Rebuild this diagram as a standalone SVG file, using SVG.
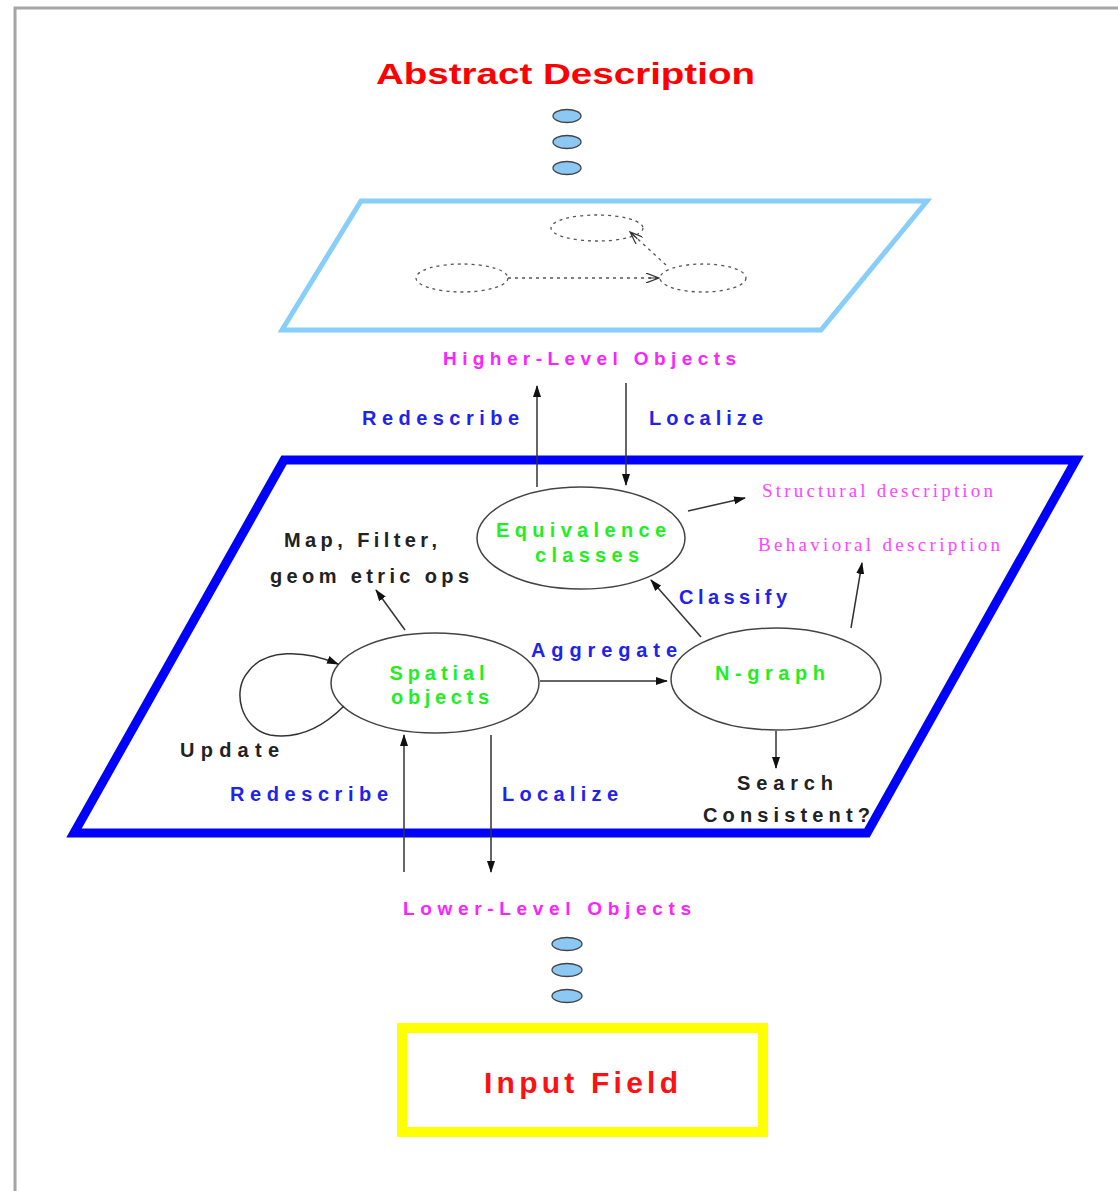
<svg xmlns="http://www.w3.org/2000/svg" width="1118" height="1191" viewBox="0 0 1118 1191">
<defs>
<style>
.t{font-family:"Liberation Sans",Arial,sans-serif;font-weight:bold}
.blue{fill:#2222ee;font-size:20px}
.mag{fill:#ff22ff;font-size:19px}
.grn{fill:#22ee22;font-size:20px}
.blk{fill:#222;font-size:20px}
.ser{font-family:"Liberation Serif","Times New Roman",serif;fill:#ff44ff;font-size:19px}
.node{fill:#fff;stroke:#444;stroke-width:1.5}
.dot{fill:#8cc8f4;stroke:#444;stroke-width:1.3}
.dash{fill:none;stroke:#555;stroke-width:1.3;stroke-dasharray:3 4}
.edge{fill:none;stroke:#333;stroke-width:1.5}
</style>
<marker id="ah" viewBox="0 0 12 10" refX="11" refY="5" markerWidth="12" markerHeight="10" markerUnits="userSpaceOnUse" orient="auto">
<path d="M0,1 L12,5 L0,9 Z" fill="#111"/>
</marker>
<marker id="oh" viewBox="0 0 14 10" refX="13" refY="5" markerWidth="14" markerHeight="10" markerUnits="userSpaceOnUse" orient="auto">
<path d="M0,0 L13,5 L0,10 M3,5 L13,5" fill="none" stroke="#333" stroke-width="1.2"/>
</marker>
</defs>
<rect width="1118" height="1191" fill="#fff"/>
<path d="M15,1191 L15,8 L1118,8" fill="none" stroke="#a6a6a6" stroke-width="3"/>

<g id="abstract">
<text class="t" x="376" y="84" font-size="30" fill="#ff0000" textLength="379" lengthAdjust="spacingAndGlyphs">Abstract Description</text>
</g>
<g id="dots-top">
<ellipse class="dot" cx="567" cy="116" rx="14" ry="6.5"/>
<ellipse class="dot" cx="567" cy="142" rx="14" ry="6.5"/>
<ellipse class="dot" cx="567" cy="168" rx="14" ry="6.5"/>
</g>

<g id="higher-plane">
<polygon points="361,201 927,201 821,330 282,330" fill="none" stroke="#87cefa" stroke-width="5"/>
<ellipse class="dash" cx="597" cy="228" rx="46" ry="13"/>
<ellipse class="dash" cx="462" cy="278" rx="46" ry="14"/>
<ellipse class="dash" cx="703" cy="278" rx="43" ry="14"/>
<path class="dash" d="M508,278 L659,278" marker-end="url(#oh)"/>
<path class="dash" d="M666,265 L630,232" marker-end="url(#oh)"/>
</g>
<g id="higher-label">
<text class="t mag" x="443" y="365" textLength="293" lengthAdjust="spacing">Higher-Level Objects</text>
</g>

<g id="middle-plane">
<polygon points="284,460 1076,460 867,833 74,833" fill="none" stroke="#0000ff" stroke-width="9"/>
</g>

<g id="equivalence">
<ellipse class="node" cx="581" cy="538" rx="104" ry="51"/>
<text class="t grn" x="581" y="537" text-anchor="middle" textLength="170" lengthAdjust="spacing">Equivalence</text>
<text class="t grn" x="587" y="562" text-anchor="middle" textLength="104" lengthAdjust="spacing">classes</text>
</g>
<g id="spatial">
<ellipse class="node" cx="435" cy="683" rx="104" ry="50"/>
<text class="t grn" x="437" y="680" text-anchor="middle" textLength="95" lengthAdjust="spacing">Spatial</text>
<text class="t grn" x="440" y="704" text-anchor="middle" textLength="98" lengthAdjust="spacing">objects</text>
</g>
<g id="ngraph">
<ellipse class="node" cx="776" cy="679" rx="105" ry="51"/>
<text class="t grn" x="770" y="680" text-anchor="middle" textLength="110" lengthAdjust="spacing">N-graph</text>
</g>

<g id="connectors">
<path class="edge" d="M537,487 L537,386" marker-end="url(#ah)"/>
<path class="edge" d="M626,383 L626,485" marker-end="url(#ah)"/>
<path class="edge" d="M688,511 L745,498" marker-end="url(#ah)"/>
<path class="edge" d="M851,628 L862,563" marker-end="url(#ah)"/>
<path class="edge" d="M540,681 L667,681" marker-end="url(#ah)"/>
<path class="edge" d="M701,637 L651,580" marker-end="url(#ah)"/>
<path class="edge" d="M405,630 L376,590" marker-end="url(#ah)"/>
<path class="edge" d="M344,706 C325,725 300,740 270,735 C240,728 232,690 248,672 C265,648 305,650 338,664" marker-end="url(#ah)"/>
<path class="edge" d="M776,731 L776,768" marker-end="url(#ah)"/>
<path class="edge" d="M404,872 L404,735" marker-end="url(#ah)"/>
<path class="edge" d="M491,735 L491,872" marker-end="url(#ah)"/>
</g>

<g id="labels">
<text class="t blue" x="362" y="425" textLength="157" lengthAdjust="spacing">Redescribe</text>
<text class="t blue" x="649" y="425" textLength="114" lengthAdjust="spacing">Localize</text>
<text class="ser" x="762" y="497" textLength="231" lengthAdjust="spacing">Structural description</text>
<text class="ser" x="758" y="551" textLength="242" lengthAdjust="spacing">Behavioral description</text>
<text class="t blk" x="284" y="547" textLength="153" lengthAdjust="spacing">Map, Filter,</text>
<text class="t blk" x="270" y="583" textLength="199" lengthAdjust="spacing">geom etric ops</text>
<text class="t blue" x="679" y="604" textLength="108" lengthAdjust="spacing">Classify</text>
<text class="t blue" x="531" y="657" textLength="146" lengthAdjust="spacing">Aggregate</text>
<text class="t blk" x="180" y="757" textLength="99" lengthAdjust="spacing">Update</text>
<text class="t blk" x="737" y="790" textLength="96" lengthAdjust="spacing">Search</text>
<text class="t blk" x="703" y="822" textLength="167" lengthAdjust="spacing">Consistent?</text>
<text class="t blue" x="230" y="801" textLength="158" lengthAdjust="spacing">Redescribe</text>
<text class="t blue" x="502" y="801" textLength="116" lengthAdjust="spacing">Localize</text>
</g>

<g id="lower-label">
<text class="t mag" x="403" y="915" textLength="288" lengthAdjust="spacing">Lower-Level Objects</text>
</g>
<g id="dots-bottom">
<ellipse class="dot" cx="567" cy="944" rx="15" ry="6.5"/>
<ellipse class="dot" cx="567" cy="970" rx="15" ry="6.5"/>
<ellipse class="dot" cx="567" cy="996" rx="15" ry="6.5"/>
</g>
<g id="input-field">
<rect x="402" y="1028" width="361" height="104" fill="none" stroke="#ffff00" stroke-width="10"/>
<text class="t" x="484" y="1093" font-size="30" fill="#ff1111" textLength="194" lengthAdjust="spacing">Input Field</text>
</g>
</svg>
